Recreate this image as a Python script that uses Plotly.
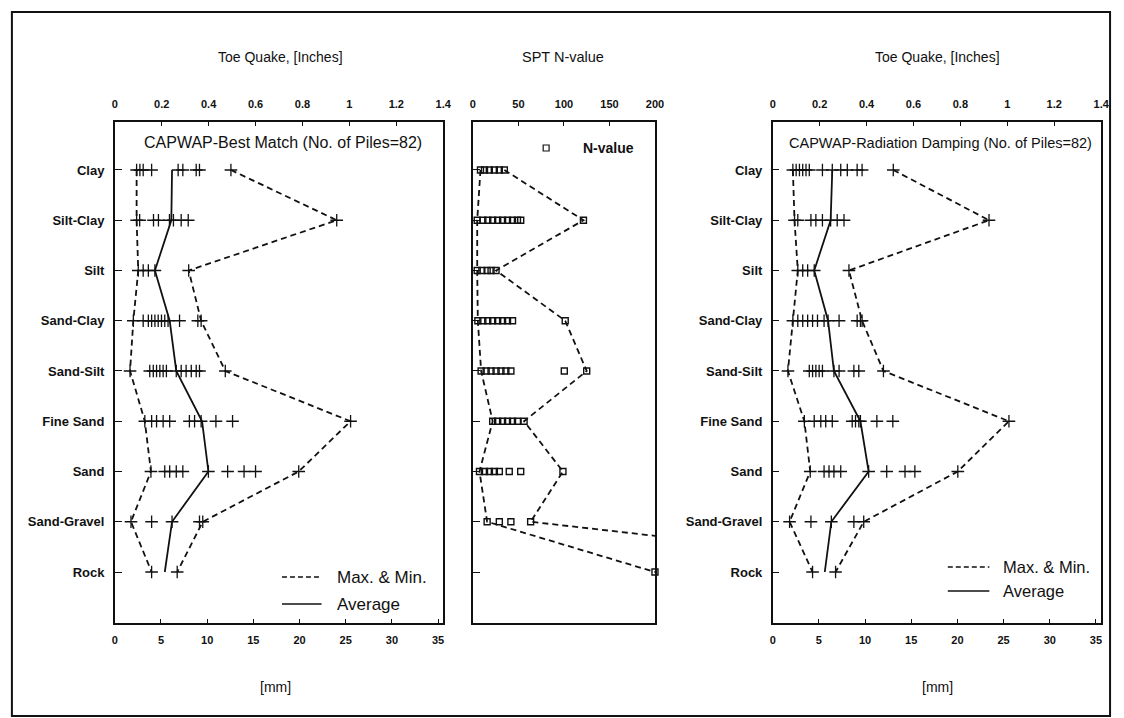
import plotly.graph_objects as go

# ---- data -------------------------------------------------------------
soil_types = ["Clay", "Silt-Clay", "Silt", "Sand-Clay", "Sand-Silt",
              "Fine Sand", "Sand", "Sand-Gravel", "Rock"]

# CAPWAP best match: toe quake of individual piles (inches)
bm_points = [
    [0.093, 0.107, 0.121, 0.157, 0.270, 0.290, 0.347, 0.361, 0.495],
    [0.093, 0.106, 0.165, 0.186, 0.233, 0.250, 0.283, 0.313, 0.946],
    [0.100, 0.121, 0.143, 0.171, 0.315],
    [0.079, 0.121, 0.143, 0.157, 0.171, 0.185, 0.199, 0.213, 0.227, 0.276, 0.354, 0.368],
    [0.065, 0.149, 0.164, 0.178, 0.192, 0.206, 0.220, 0.262, 0.283, 0.304, 0.326, 0.347, 0.361, 0.471],
    [0.128, 0.157, 0.178, 0.206, 0.234, 0.318, 0.340, 0.368, 0.431, 0.502, 1.005],
    [0.154, 0.213, 0.234, 0.262, 0.290, 0.399, 0.481, 0.551, 0.600, 0.784],
    [0.069, 0.157, 0.244, 0.361, 0.375],
    [0.157, 0.266],
]
bm_min = [0.093, 0.093, 0.100, 0.079, 0.065, 0.128, 0.154, 0.069, 0.157]
bm_max = [0.495, 0.946, 0.315, 0.368, 0.471, 1.005, 0.784, 0.375, 0.266]
bm_avg = [0.244, 0.241, 0.171, 0.234, 0.262, 0.372, 0.399, 0.244, 0.213]

# CAPWAP radiation damping: toe quake of individual piles (inches)
rd_points = [
    [0.086, 0.100, 0.114, 0.128, 0.142, 0.156, 0.212, 0.254, 0.290, 0.318, 0.360, 0.381, 0.514],
    [0.093, 0.107, 0.163, 0.184, 0.212, 0.247, 0.275, 0.304, 0.922],
    [0.107, 0.128, 0.149, 0.177, 0.325],
    [0.086, 0.107, 0.128, 0.149, 0.170, 0.191, 0.219, 0.236, 0.283, 0.360, 0.374, 0.381],
    [0.065, 0.156, 0.170, 0.184, 0.198, 0.212, 0.261, 0.283, 0.346, 0.367, 0.472],
    [0.135, 0.177, 0.205, 0.226, 0.254, 0.339, 0.353, 0.367, 0.374, 0.444, 0.512, 1.007],
    [0.160, 0.219, 0.240, 0.261, 0.290, 0.409, 0.486, 0.564, 0.606, 0.789],
    [0.072, 0.163, 0.250, 0.346, 0.388],
    [0.170, 0.268],
]
rd_min = [0.086, 0.093, 0.107, 0.086, 0.065, 0.135, 0.160, 0.072, 0.170]
rd_max = [0.514, 0.922, 0.325, 0.381, 0.472, 1.007, 0.789, 0.388, 0.268]
rd_avg = [0.254, 0.247, 0.177, 0.236, 0.261, 0.374, 0.409, 0.250, 0.222]

# SPT N-values
n_points = [
    [8.3, 12.7, 18.0, 23.5, 29.0, 34.5],
    [4.7, 10.9, 16.3, 21.7, 27.2, 32.6, 38.0, 43.5, 48.9, 52.5, 121.4],
    [4.7, 9.8, 15.6, 19.9, 25.4],
    [5.4, 10.9, 16.3, 21.7, 27.2, 32.6, 38.0, 43.5, 101.4],
    [9.0, 14.5, 19.9, 25.4, 30.8, 36.2, 41.7, 100.4, 125.0],
    [21.7, 27.2, 32.6, 38.0, 43.5, 48.9, 56.2],
    [7.2, 12.7, 18.1, 23.5, 29.0, 39.9, 52.5, 98.9],
    [15.6, 29.0, 41.7, 63.4],
    [200.0],
]
n_min = [8.3, 4.7, 4.7, 5.4, 9.0, 21.7, 7.2, 15.6, 200.0]
n_max = [34.5, 121.4, 25.4, 101.4, 125.0, 56.2, 98.9, 63.4, 550.0]

inch_ticks = [0, 0.2, 0.4, 0.6, 0.8, 1, 1.2, 1.4]
mm_ticks = [0, 5, 10, 15, 20, 25, 30, 35]
n_ticks = [0, 50, 100, 150, 200]
MM_PER_INCH = 25.4

# ---- layout helpers ---------------------------------------------------
W, H = 1124, 718
def px(x):
    return x / W
def py(y):
    return 1 - y / H

FONT = "Arial"
BLACK = "#111111"
idx = list(range(len(soil_types)))
Y_RANGE = [9.015, -0.955]
Y_DOM = [py(623), py(122)]
LEFT_DOM = [px(113), px(445)]
MID_DOM = [px(475), px(659)]
RIGHT_DOM = [px(778), px(1110)]

fig = go.Figure()


def flat(points):
    xs, ys = [], []
    for k, row in enumerate(points):
        xs += row
        ys += [k] * len(row)
    return xs, ys


def add_quake_panel(points, vmin, vmax, vavg, xa, xa_mm, ya):
    # max & min envelope as one dashed trace
    fig.add_trace(go.Scatter(
        x=vmax + [None] + vmin, y=idx + [None] + idx, mode="lines",
        line=dict(color=BLACK, width=1.8, dash="6px,4px"),
        xaxis=xa, yaxis=ya, showlegend=False, hoverinfo="skip"))
    fig.add_trace(go.Scatter(
        x=vavg, y=idx, mode="lines", line=dict(color=BLACK, width=1.8),
        xaxis=xa, yaxis=ya, showlegend=False, hoverinfo="skip"))
    xs, ys = flat(points)
    fig.add_trace(go.Scatter(
        x=xs, y=ys, mode="markers",
        marker=dict(symbol="cross-thin", size=9, line=dict(color=BLACK, width=1.3)),
        xaxis=xa, yaxis=ya, showlegend=False, cliponaxis=False))
    # empty trace so the millimetre axis gets drawn
    fig.add_trace(go.Scatter(
        x=[None], y=[None], mode="lines", xaxis=xa_mm, yaxis=ya,
        showlegend=False, hoverinfo="skip"))


add_quake_panel(bm_points, bm_min, bm_max, bm_avg, "x", "x2", "y")
add_quake_panel(rd_points, rd_min, rd_max, rd_avg, "x4", "x5", "y3")

# SPT panel
fig.add_trace(go.Scatter(
    x=n_max + [None] + n_min, y=idx + [None] + idx, mode="lines",
    line=dict(color=BLACK, width=1.8, dash="6px,4px"),
    xaxis="x3", yaxis="y2", showlegend=False, hoverinfo="skip"))
nx, ny = flat(n_points)
fig.add_trace(go.Scatter(
    x=nx, y=ny, mode="markers",
    marker=dict(symbol="square-open", size=6, color=BLACK,
                line=dict(color=BLACK, width=1.4)),
    xaxis="x3", yaxis="y2", showlegend=False, cliponaxis=False))

tick_font = dict(family=FONT, size=11, color=BLACK, weight="bold")
axis_common = dict(showgrid=False, zeroline=False, showline=True,
                   linecolor=BLACK, linewidth=1.5, ticks="inside",
                   tickcolor=BLACK, ticklen=4, tickfont=tick_font)

y_common = dict(axis_common, range=Y_RANGE, domain=Y_DOM, tickvals=idx,
                ticklen=7, mirror=True,
                tickfont=dict(tick_font, size=13))

fig.update_layout(
    width=W, height=H, margin=dict(l=0, r=0, t=0, b=0),
    paper_bgcolor="white", plot_bgcolor="white",
    xaxis=dict(axis_common, domain=LEFT_DOM, range=[0, 1.4], side="top",
               anchor="y", tickvals=inch_ticks, mirror=True,
               ticklabelstandoff=8),
    xaxis2=dict(axis_common, domain=LEFT_DOM, range=[0, 1.4 * MM_PER_INCH],
                side="bottom", overlaying="x", anchor="y",
                tickvals=mm_ticks, ticklabelstandoff=6),
    yaxis=dict(y_common, anchor="x", ticktext=soil_types,
               ticklabelstandoff=6),
    xaxis3=dict(axis_common, domain=MID_DOM, range=[0, 200], side="top",
                anchor="y2", tickvals=n_ticks, mirror=True,
                ticklabelstandoff=8),
    yaxis2=dict(y_common, anchor="x3", showticklabels=False),
    xaxis4=dict(axis_common, domain=RIGHT_DOM, range=[0, 1.4], side="top",
                anchor="y3", tickvals=inch_ticks, mirror=True,
                ticklabelstandoff=8),
    xaxis5=dict(axis_common, domain=RIGHT_DOM, range=[0, 1.4 * MM_PER_INCH],
                side="bottom", overlaying="x4", anchor="y3",
                tickvals=mm_ticks, ticklabelstandoff=6),
    yaxis3=dict(y_common, anchor="x4", ticktext=soil_types,
                ticklabelstandoff=6),
)

ann = []
def text(x, y, s, size=14, xanchor="center", weight="normal"):
    ann.append(dict(x=px(x), y=py(y), xref="paper", yref="paper", text=s,
                    showarrow=False, xanchor=xanchor, yanchor="middle",
                    font=dict(family=FONT, size=size, color=BLACK, weight=weight)))

text(280, 57, "Toe Quake, [Inches]", 14)
text(566, 57, "SPT N-value", 14.5)
text(945, 57, "Toe Quake, [Inches]", 14)
text(275, 687, "[mm]", 14)
text(945, 687, "[mm]", 14)
text(283, 142, "CAPWAP-Best Match (No. of Piles=82)", 16)
text(948, 143, "CAPWAP-Radiation Damping (No. of Piles=82)", 14.5)
text(336, 577, "Max. & Min.", 17, "left")
text(336, 604, "Average", 17, "left")
text(1009, 567, "Max. & Min.", 16.5, "left")
text(1009, 591, "Average", 16.5, "left")
text(584, 148, "N-value", 14, "left", "bold")

shapes = [
    # legend samples
    dict(type="line", x0=px(282), x1=px(322), y0=py(577), y1=py(577),
         line=dict(color=BLACK, width=1.5, dash="5px,3px")),
    dict(type="line", x0=px(282), x1=px(322), y0=py(604), y1=py(604),
         line=dict(color=BLACK, width=1.5)),
    dict(type="line", x0=px(955), x1=px(997), y0=py(567), y1=py(567),
         line=dict(color=BLACK, width=1.5, dash="5px,3px")),
    dict(type="line", x0=px(955), x1=px(997), y0=py(591), y1=py(591),
         line=dict(color=BLACK, width=1.5)),
    dict(type="rect", x0=px(546), x1=px(552), y0=py(151), y1=py(145),
         line=dict(color=BLACK, width=1.2)),
    # outer frame
    dict(type="rect", x0=px(9), x1=px(1119), y0=py(716), y1=py(12),
         line=dict(color=BLACK, width=2)),
]
for s in shapes:
    s.update(xref="paper", yref="paper")

fig.update_layout(annotations=ann, shapes=shapes)
fig.write_html("out.html")
